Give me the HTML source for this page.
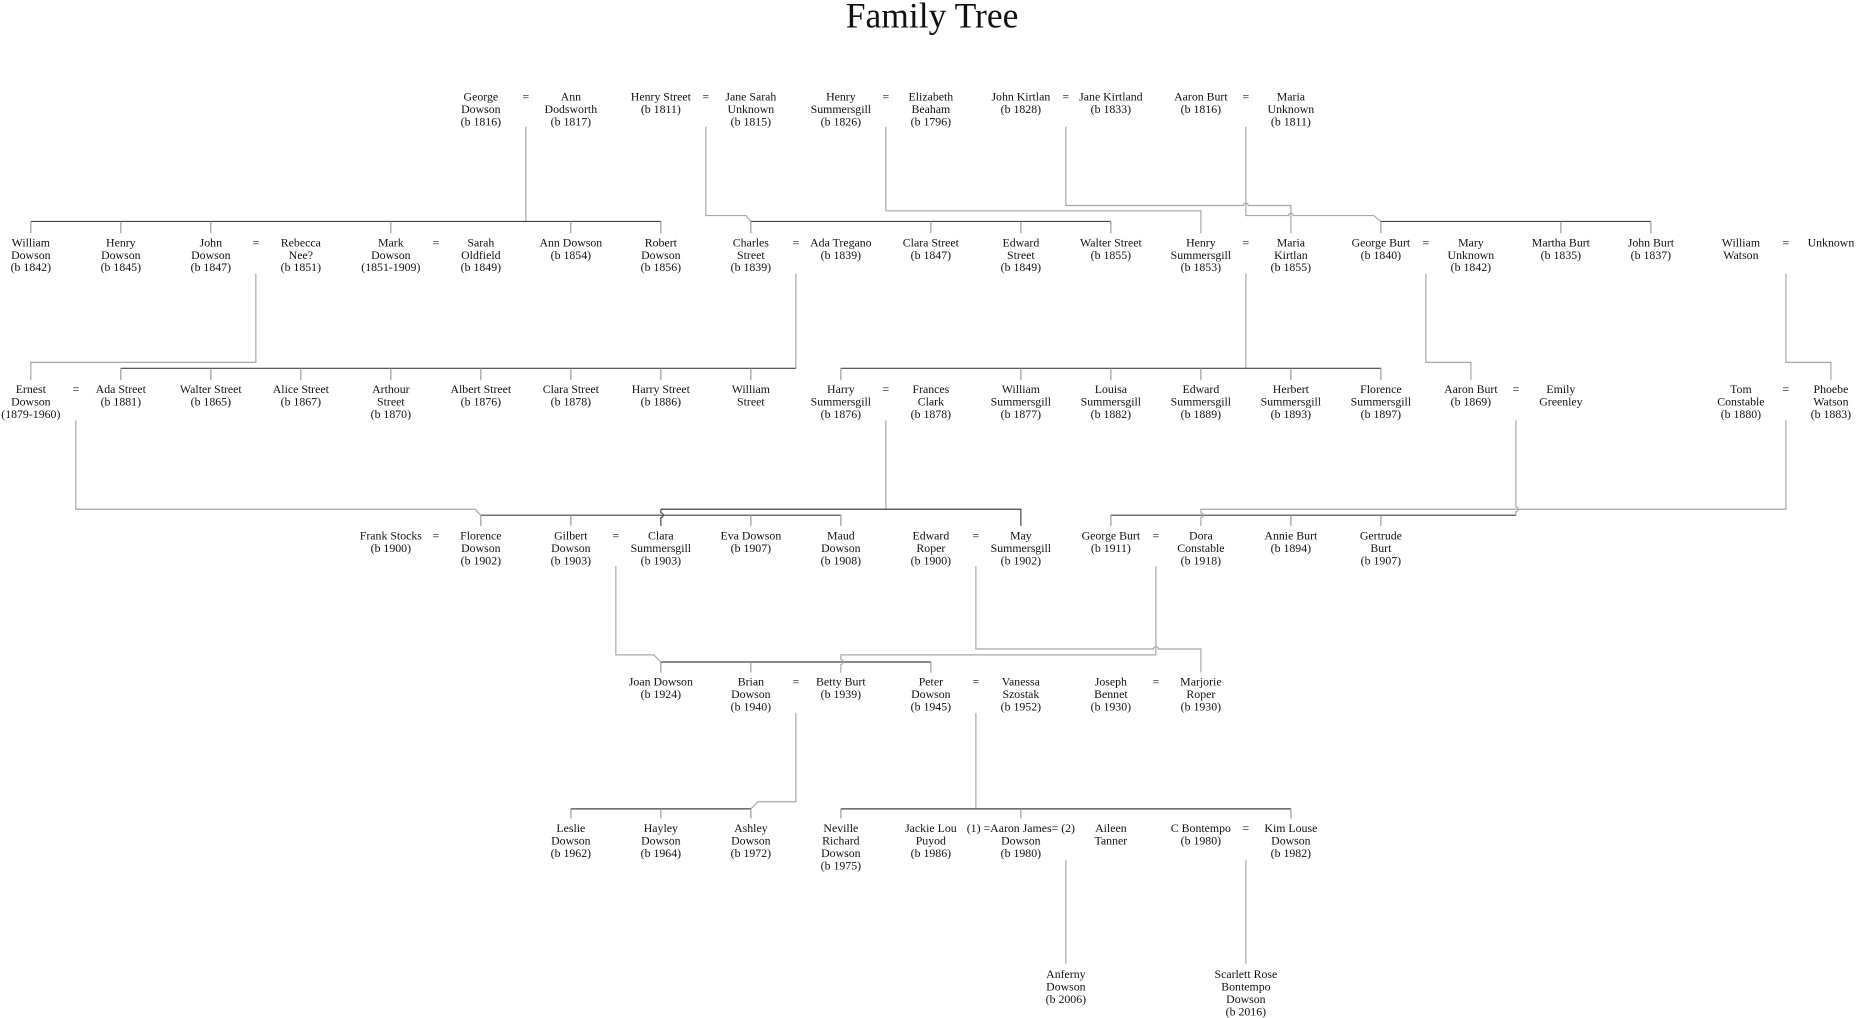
<!DOCTYPE html>
<html><head><meta charset="utf-8"><style>
html,body{margin:0;padding:0;background:#fff;}
svg{display:block;}
text{font-family:"Liberation Serif",serif;font-size:10px;fill:#111;text-anchor:middle;}
.t{font-size:30px;}
.d{stroke:#a8a8a8;stroke-width:1;fill:none;}
.b{stroke:#444;stroke-width:1;fill:none;}
.k{stroke:#999;stroke-width:1;fill:none;}
</style></head><body>
<svg width="1857" height="1018" viewBox="0 0 1568 859.6" xmlns="http://www.w3.org/2000/svg">
<text class="t" x="787" y="23">Family Tree</text>

<!-- ROW1 -> ROW2 -->
<path class="d" d="M444 107V187"/>
<path class="b" d="M26 187H558"/>
<path class="k" d="M26 187V197M102 187V197M178 187V197M330 187V197M482 187V197M558 187V197"/>
<path class="d" d="M596 107V182H630L634 187"/>
<path class="b" d="M634 187H938"/>
<path class="k" d="M634 187V197M786 187V197M862 187V197M938 187V197"/>
<path class="d" d="M748 107V178H1014V197"/>
<path class="d" d="M900 107V173.5H1050a2 2 0 0 1 4 0H1090V197"/>
<path class="d" d="M1052 107V182H1088a2 2 0 0 1 4 0H1160L1166 187"/>
<path class="b" d="M1166 187H1394"/>
<path class="k" d="M1166 187V197M1318 187V197M1394 187V197"/>

<!-- ROW2 -> ROW3 -->
<path class="d" d="M216 231V306H26V321"/>
<path class="d" d="M672 231V311"/>
<path class="b" d="M102 311H672"/>
<path class="k" d="M102 311V321M178 311V321M254 311V321M330 311V321M406 311V321M482 311V321M558 311V321M634 311V321"/>
<path class="d" d="M1052 231V311"/>
<path class="b" d="M710 311H1166"/>
<path class="k" d="M710 311V321M862 311V321M938 311V321M1014 311V321M1090 311V321M1166 311V321"/>
<path class="d" d="M1204 231V306H1242V321"/>
<path class="d" d="M1508 231V306H1546V321"/>

<!-- ROW3 -> ROW4 -->
<path class="d" d="M64 355V430H401L406 435"/>
<path class="b" d="M406 435H710"/>
<path class="k" d="M406 435V444M482 435V444M634 435V444M710 435V444"/>
<path class="d" d="M748 355V430"/>
<path class="b" d="M558 430H862V444M558 430V433a2 2 0 0 1 0 4V444"/>
<path class="d" d="M1280 355V428a2 2 0 0 1 0 4V435"/>
<path class="b" d="M938 435H1280"/>
<path class="k" d="M938 435V444M1090 435V444M1166 435V444"/>
<path class="d" d="M1508 355V430H1014V433a2 2 0 0 1 0 4V444"/>

<!-- ROW4 -> ROW5 -->
<path class="d" d="M520 478V553H552L558 559"/>
<path class="b" d="M558 559H786"/>
<path class="k" d="M558 559V568M634 559V568M786 559V568"/>
<path class="d" d="M976 478V553H710V557a2 2 0 0 1 0 4V568"/>
<path class="d" d="M824 478V548H974a2 2 0 0 1 4 0H1014V568"/>

<!-- ROW5 -> ROW6 -->
<path class="d" d="M672 602V677H640L634 683"/>
<path class="b" d="M482 683H634"/>
<path class="k" d="M482 683V691M558 683V691M634 683V691"/>
<path class="d" d="M824 602V683"/>
<path class="b" d="M710 683H1090"/>
<path class="k" d="M710 683V691M862 683V691M1090 683V691"/>

<!-- ROW6 -> ROW7 -->
<path class="d" d="M900 726V814"/>
<path class="d" d="M1052 726V814"/>

<!-- ROW 1 text -->
<g>
<text x="406" y="85">George<tspan x="406" dy="10.5">Dowson</tspan><tspan x="406" dy="10.5">(b 1816)</tspan></text>
<text x="444" y="85">=</text>
<text x="482" y="85">Ann<tspan x="482" dy="10.5">Dodsworth</tspan><tspan x="482" dy="10.5">(b 1817)</tspan></text>
<text x="558" y="85">Henry Street<tspan x="558" dy="10.5">(b 1811)</tspan></text>
<text x="596" y="85">=</text>
<text x="634" y="85">Jane Sarah<tspan x="634" dy="10.5">Unknown</tspan><tspan x="634" dy="10.5">(b 1815)</tspan></text>
<text x="710" y="85">Henry<tspan x="710" dy="10.5">Summersgill</tspan><tspan x="710" dy="10.5">(b 1826)</tspan></text>
<text x="748" y="85">=</text>
<text x="786" y="85">Elizabeth<tspan x="786" dy="10.5">Beaham</tspan><tspan x="786" dy="10.5">(b 1796)</tspan></text>
<text x="862" y="85">John Kirtlan<tspan x="862" dy="10.5">(b 1828)</tspan></text>
<text x="900" y="85">=</text>
<text x="938" y="85">Jane Kirtland<tspan x="938" dy="10.5">(b 1833)</tspan></text>
<text x="1014" y="85">Aaron Burt<tspan x="1014" dy="10.5">(b 1816)</tspan></text>
<text x="1052" y="85">=</text>
<text x="1090" y="85">Maria<tspan x="1090" dy="10.5">Unknown</tspan><tspan x="1090" dy="10.5">(b 1811)</tspan></text>
</g>

<!-- ROW 2 text -->
<g>
<text x="26" y="208">William<tspan x="26" dy="10.5">Dowson</tspan><tspan x="26" dy="10.5">(b 1842)</tspan></text>
<text x="102" y="208">Henry<tspan x="102" dy="10.5">Dowson</tspan><tspan x="102" dy="10.5">(b 1845)</tspan></text>
<text x="178" y="208">John<tspan x="178" dy="10.5">Dowson</tspan><tspan x="178" dy="10.5">(b 1847)</tspan></text>
<text x="216" y="208">=</text>
<text x="254" y="208">Rebecca<tspan x="254" dy="10.5">Nee?</tspan><tspan x="254" dy="10.5">(b 1851)</tspan></text>
<text x="330" y="208">Mark<tspan x="330" dy="10.5">Dowson</tspan><tspan x="330" dy="10.5">(1851-1909)</tspan></text>
<text x="368" y="208">=</text>
<text x="406" y="208">Sarah<tspan x="406" dy="10.5">Oldfield</tspan><tspan x="406" dy="10.5">(b 1849)</tspan></text>
<text x="482" y="208">Ann Dowson<tspan x="482" dy="10.5">(b 1854)</tspan></text>
<text x="558" y="208">Robert<tspan x="558" dy="10.5">Dowson</tspan><tspan x="558" dy="10.5">(b 1856)</tspan></text>
<text x="634" y="208">Charles<tspan x="634" dy="10.5">Street</tspan><tspan x="634" dy="10.5">(b 1839)</tspan></text>
<text x="672" y="208">=</text>
<text x="710" y="208">Ada Tregano<tspan x="710" dy="10.5">(b 1839)</tspan></text>
<text x="786" y="208">Clara Street<tspan x="786" dy="10.5">(b 1847)</tspan></text>
<text x="862" y="208">Edward<tspan x="862" dy="10.5">Street</tspan><tspan x="862" dy="10.5">(b 1849)</tspan></text>
<text x="938" y="208">Walter Street<tspan x="938" dy="10.5">(b 1855)</tspan></text>
<text x="1014" y="208">Henry<tspan x="1014" dy="10.5">Summersgill</tspan><tspan x="1014" dy="10.5">(b 1853)</tspan></text>
<text x="1052" y="208">=</text>
<text x="1090" y="208">Maria<tspan x="1090" dy="10.5">Kirtlan</tspan><tspan x="1090" dy="10.5">(b 1855)</tspan></text>
<text x="1166" y="208">George Burt<tspan x="1166" dy="10.5">(b 1840)</tspan></text>
<text x="1204" y="208">=</text>
<text x="1242" y="208">Mary<tspan x="1242" dy="10.5">Unknown</tspan><tspan x="1242" dy="10.5">(b 1842)</tspan></text>
<text x="1318" y="208">Martha Burt<tspan x="1318" dy="10.5">(b 1835)</tspan></text>
<text x="1394" y="208">John Burt<tspan x="1394" dy="10.5">(b 1837)</tspan></text>
<text x="1470" y="208">William<tspan x="1470" dy="10.5">Watson</tspan></text>
<text x="1508" y="208">=</text>
<text x="1546" y="208">Unknown</text>
</g>

<!-- ROW 3 text -->
<g>
<text x="26" y="332">Ernest<tspan x="26" dy="10.5">Dowson</tspan><tspan x="26" dy="10.5">(1879-1960)</tspan></text>
<text x="64" y="332">=</text>
<text x="102" y="332">Ada Street<tspan x="102" dy="10.5">(b 1881)</tspan></text>
<text x="178" y="332">Walter Street<tspan x="178" dy="10.5">(b 1865)</tspan></text>
<text x="254" y="332">Alice Street<tspan x="254" dy="10.5">(b 1867)</tspan></text>
<text x="330" y="332">Arthour<tspan x="330" dy="10.5">Street</tspan><tspan x="330" dy="10.5">(b 1870)</tspan></text>
<text x="406" y="332">Albert Street<tspan x="406" dy="10.5">(b 1876)</tspan></text>
<text x="482" y="332">Clara Street<tspan x="482" dy="10.5">(b 1878)</tspan></text>
<text x="558" y="332">Harry Street<tspan x="558" dy="10.5">(b 1886)</tspan></text>
<text x="634" y="332">William<tspan x="634" dy="10.5">Street</tspan></text>
<text x="710" y="332">Harry<tspan x="710" dy="10.5">Summersgill</tspan><tspan x="710" dy="10.5">(b 1876)</tspan></text>
<text x="748" y="332">=</text>
<text x="786" y="332">Frances<tspan x="786" dy="10.5">Clark</tspan><tspan x="786" dy="10.5">(b 1878)</tspan></text>
<text x="862" y="332">William<tspan x="862" dy="10.5">Summersgill</tspan><tspan x="862" dy="10.5">(b 1877)</tspan></text>
<text x="938" y="332">Louisa<tspan x="938" dy="10.5">Summersgill</tspan><tspan x="938" dy="10.5">(b 1882)</tspan></text>
<text x="1014" y="332">Edward<tspan x="1014" dy="10.5">Summersgill</tspan><tspan x="1014" dy="10.5">(b 1889)</tspan></text>
<text x="1090" y="332">Herbert<tspan x="1090" dy="10.5">Summersgill</tspan><tspan x="1090" dy="10.5">(b 1893)</tspan></text>
<text x="1166" y="332">Florence<tspan x="1166" dy="10.5">Summersgill</tspan><tspan x="1166" dy="10.5">(b 1897)</tspan></text>
<text x="1242" y="332">Aaron Burt<tspan x="1242" dy="10.5">(b 1869)</tspan></text>
<text x="1280" y="332">=</text>
<text x="1318" y="332">Emily<tspan x="1318" dy="10.5">Greenley</tspan></text>
<text x="1470" y="332">Tom<tspan x="1470" dy="10.5">Constable</tspan><tspan x="1470" dy="10.5">(b 1880)</tspan></text>
<text x="1508" y="332">=</text>
<text x="1546" y="332">Phoebe<tspan x="1546" dy="10.5">Watson</tspan><tspan x="1546" dy="10.5">(b 1883)</tspan></text>
</g>

<!-- ROW 4 text -->
<g>
<text x="330" y="455.5">Frank Stocks<tspan x="330" dy="10.5">(b 1900)</tspan></text>
<text x="368" y="455.5">=</text>
<text x="406" y="455.5">Florence<tspan x="406" dy="10.5">Dowson</tspan><tspan x="406" dy="10.5">(b 1902)</tspan></text>
<text x="482" y="455.5">Gilbert<tspan x="482" dy="10.5">Dowson</tspan><tspan x="482" dy="10.5">(b 1903)</tspan></text>
<text x="520" y="455.5">=</text>
<text x="558" y="455.5">Clara<tspan x="558" dy="10.5">Summersgill</tspan><tspan x="558" dy="10.5">(b 1903)</tspan></text>
<text x="634" y="455.5">Eva Dowson<tspan x="634" dy="10.5">(b 1907)</tspan></text>
<text x="710" y="455.5">Maud<tspan x="710" dy="10.5">Dowson</tspan><tspan x="710" dy="10.5">(b 1908)</tspan></text>
<text x="786" y="455.5">Edward<tspan x="786" dy="10.5">Roper</tspan><tspan x="786" dy="10.5">(b 1900)</tspan></text>
<text x="824" y="455.5">=</text>
<text x="862" y="455.5">May<tspan x="862" dy="10.5">Summersgill</tspan><tspan x="862" dy="10.5">(b 1902)</tspan></text>
<text x="938" y="455.5">George Burt<tspan x="938" dy="10.5">(b 1911)</tspan></text>
<text x="976" y="455.5">=</text>
<text x="1014" y="455.5">Dora<tspan x="1014" dy="10.5">Constable</tspan><tspan x="1014" dy="10.5">(b 1918)</tspan></text>
<text x="1090" y="455.5">Annie Burt<tspan x="1090" dy="10.5">(b 1894)</tspan></text>
<text x="1166" y="455.5">Gertrude<tspan x="1166" dy="10.5">Burt</tspan><tspan x="1166" dy="10.5">(b 1907)</tspan></text>
</g>

<!-- ROW 5 text -->
<g>
<text x="558" y="579">Joan Dowson<tspan x="558" dy="10.5">(b 1924)</tspan></text>
<text x="634" y="579">Brian<tspan x="634" dy="10.5">Dowson</tspan><tspan x="634" dy="10.5">(b 1940)</tspan></text>
<text x="672" y="579">=</text>
<text x="710" y="579">Betty Burt<tspan x="710" dy="10.5">(b 1939)</tspan></text>
<text x="786" y="579">Peter<tspan x="786" dy="10.5">Dowson</tspan><tspan x="786" dy="10.5">(b 1945)</tspan></text>
<text x="824" y="579">=</text>
<text x="862" y="579">Vanessa<tspan x="862" dy="10.5">Szostak</tspan><tspan x="862" dy="10.5">(b 1952)</tspan></text>
<text x="938" y="579">Joseph<tspan x="938" dy="10.5">Bennet</tspan><tspan x="938" dy="10.5">(b 1930)</tspan></text>
<text x="976" y="579">=</text>
<text x="1014" y="579">Marjorie<tspan x="1014" dy="10.5">Roper</tspan><tspan x="1014" dy="10.5">(b 1930)</tspan></text>
</g>

<!-- ROW 6 text -->
<g>
<text x="482" y="702.5">Leslie<tspan x="482" dy="10.5">Dowson</tspan><tspan x="482" dy="10.5">(b 1962)</tspan></text>
<text x="558" y="702.5">Hayley<tspan x="558" dy="10.5">Dowson</tspan><tspan x="558" dy="10.5">(b 1964)</tspan></text>
<text x="634" y="702.5">Ashley<tspan x="634" dy="10.5">Dowson</tspan><tspan x="634" dy="10.5">(b 1972)</tspan></text>
<text x="710" y="702.5">Neville<tspan x="710" dy="10.5">Richard</tspan><tspan x="710" dy="10.5">Dowson</tspan><tspan x="710" dy="10.5">(b 1975)</tspan></text>
<text x="786" y="702.5">Jackie Lou<tspan x="786" dy="10.5">Puyod</tspan><tspan x="786" dy="10.5">(b 1986)</tspan></text>
<text x="862" y="702.5">(1) =Aaron James= (2)<tspan x="862" dy="10.5">Dowson</tspan><tspan x="862" dy="10.5">(b 1980)</tspan></text>
<text x="938" y="702.5">Aileen<tspan x="938" dy="10.5">Tanner</tspan></text>
<text x="1014" y="702.5">C Bontempo<tspan x="1014" dy="10.5">(b 1980)</tspan></text>
<text x="1052" y="702.5">=</text>
<text x="1090" y="702.5">Kim Louse<tspan x="1090" dy="10.5">Dowson</tspan><tspan x="1090" dy="10.5">(b 1982)</tspan></text>
</g>

<!-- ROW 7 text -->
<g>
<text x="900" y="826">Anferny<tspan x="900" dy="10.5">Dowson</tspan><tspan x="900" dy="10.5">(b 2006)</tspan></text>
<text x="1052" y="826">Scarlett Rose<tspan x="1052" dy="10.5">Bontempo</tspan><tspan x="1052" dy="10.5">Dowson</tspan><tspan x="1052" dy="10.5">(b 2016)</tspan></text>
</g>
</svg>
</body></html>
